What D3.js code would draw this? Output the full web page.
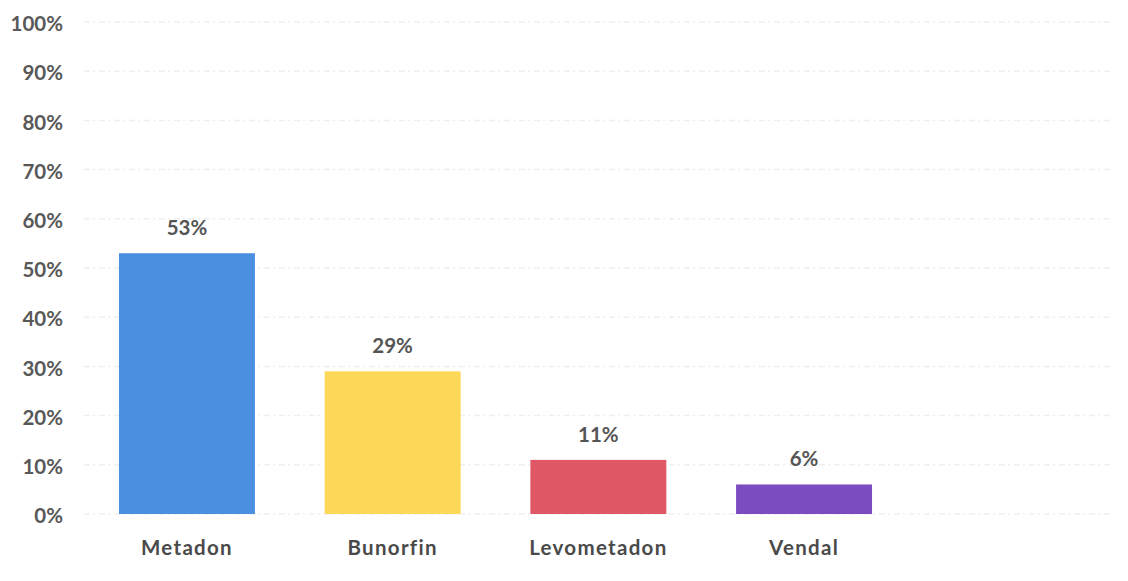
<!DOCTYPE html>
<html><head><meta charset="utf-8">
<script src="https://cdn.jsdelivr.net/npm/d3@7"></script>
<style>body{margin:0;background:#fff}svg{display:block}</style>
</head><body>
<svg id="c" width="1128" height="581"></svg>
<script>
const categories = ["Metadon", "Bunorfin", "Levometadon", "Vendal"];
const values = [0.53, 0.29, 0.11, 0.06];
const valueLabels = ["53%", "29%", "11%", "6%"];
const colors = ["#4a8fe0", "#fdd858", "#e05766", "#7b4cc0"];
const yTicks = [0, 0.1, 0.2, 0.3, 0.4, 0.5, 0.6, 0.7, 0.8, 0.9, 1.0];

const svg = d3.select("#c");
const font = "Lato, 'Open Sans', sans-serif";
const x = d3.scaleBand().domain(categories).range([84, 907]).paddingInner(0.339).paddingOuter(0.17);
const y = d3.scaleLinear().domain([0, 1]).range([514, 22]);

// gridlines
svg.append("g").selectAll("line").data(yTicks).join("line")
  .attr("x1", 84).attr("x2", 1110)
  .attr("y1", d => y(d)).attr("y2", d => y(d))
  .attr("stroke", "#efefef").attr("stroke-width", 1.5)
  .attr("stroke-dasharray", "6,3,2,4");

// y axis
const yAxis = d3.axisLeft(y).tickValues(yTicks).tickFormat(d3.format(".0%")).tickSize(0).tickPadding(0);
const ya = svg.append("g").attr("transform", "translate(63,0)").call(yAxis);
ya.select(".domain").remove();
ya.selectAll("text").attr("font-family", font).attr("font-weight", "bold")
  .attr("font-size", 20.5).attr("fill", "#585858").attr("dy", "0.42em");

// bars
svg.append("g").selectAll("rect").data(values).join("rect")
  .attr("x", (d, i) => x(categories[i]))
  .attr("width", x.bandwidth())
  .attr("y", d => y(d))
  .attr("height", d => y(0) - y(d))
  .attr("fill", (d, i) => colors[i]);

// value labels
svg.append("g").selectAll("text").data(values).join("text")
  .attr("x", (d, i) => x(categories[i]) + x.bandwidth() / 2)
  .attr("y", d => y(d) - 18)
  .attr("text-anchor", "middle")
  .attr("font-family", font).attr("font-weight", "bold").attr("font-size", 20.5)
  .attr("fill", "#555")
  .text((d, i) => valueLabels[i]);

// x axis
const xAxis = d3.axisBottom(x).tickSize(0).tickPadding(0);
const xa = svg.append("g").attr("transform", "translate(0,540)").call(xAxis);
xa.select(".domain").remove();
xa.selectAll("text").attr("font-family", font).attr("font-weight", "bold")
  .attr("font-size", 20.5).attr("fill", "#4a4a4a").attr("letter-spacing", "1.3px");
</script>
</body></html>
